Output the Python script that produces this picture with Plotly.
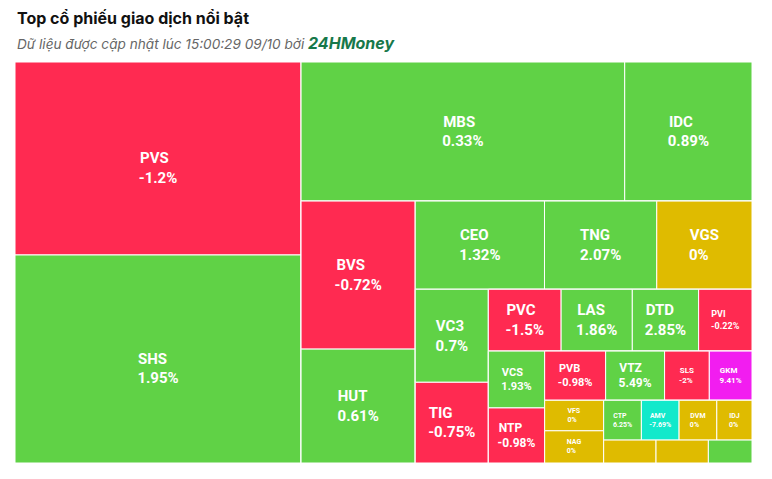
import plotly.graph_objects as go

# ---- data ----
tickers = ["PVS", "SHS", "MBS", "IDC", "BVS", "HUT", "CEO", "TNG", "VGS", "VC3",
           "TIG", "PVC", "LAS", "DTD", "PVI", "VCS", "NTP", "PVB", "VTZ", "SLS",
           "GKM", "VFS", "NAG", "CTP", "AMV", "DVM", "IDJ", "X1", "X2", "X3"]
# relative trading size (tile area)
sizes = [552, 595, 450, 177, 169, 130, 114, 99, 84, 68,
         59, 45, 44, 41, 33, 32, 31, 30, 29, 22,
         21, 18, 19, 15, 15, 15, 14, 12, 12, 10]
# % change shown on each tile (None = label not shown in the reference)
changes = [-1.2, 1.95, 0.33, 0.89, -0.72, 0.61, 1.32, 2.07, 0, 0.7,
           -0.75, -1.5, 1.86, 2.85, -0.22, 1.93, -0.98, -0.98, 5.49, -2,
           9.41, 0, 0, 6.25, -7.69, 0, 0, None, None, None]
status = ["down", "up", "up", "up", "down", "up", "up", "up", "ref", "up",
          "down", "down", "up", "up", "down", "up", "down", "down", "up", "down",
          "ceil", "ref", "ref", "up", "floor", "ref", "ref", "ref", "ref", "up"]
font_sizes = [15, 15, 15, 15, 15, 15, 15, 15, 15, 15,
              15, 15, 15, 15, 9, 11, 12, 11, 12, 8,
              8, 7, 7, 7, 7, 7, 7, 7, 7, 7]

# tile grouping of the reference layout (alternating columns / rows)
tree = [
    ["PVS", "SHS"],
    [
        ["MBS", "IDC"],
        [
            ["BVS", "HUT"],
            [
                ["CEO", "TNG", "VGS"],
                [
                    ["VC3", "TIG"],
                    [
                        ["PVC", "LAS", "DTD", "PVI"],
                        [
                            ["VCS", "NTP"],
                            [
                                ["PVB", "VTZ", "SLS", "GKM"],
                                [
                                    ["VFS", "NAG"],
                                    [
                                        ["CTP", "AMV", "DVM", "IDJ"],
                                        ["X1", "X2", "X3"],
                                    ],
                                ],
                            ],
                        ],
                    ],
                ],
            ],
        ],
    ],
]

# labels sitting lower in their tile in the reference
lowered = {"PVS", "SHS"}

palette = {"up": "#60D246", "down": "#FF2A51", "ref": "#DFBB00",
           "ceil": "#F21DF0", "floor": "#12E9CB"}

# approximate Roboto Bold advance widths (em) used to left-align the two label lines
_cw = {"0": .562, "1": .562, "2": .562, "3": .562, "4": .562, "5": .562, "6": .562,
       "7": .562, "8": .562, "9": .562, ".": .27, "-": .28, "%": .733, "\u00a0": .25,
       "I": .29, "M": .87, "W": .87, "L": .54, "E": .57, "F": .55, "J": .55}


def _w(s):
    return sum(_cw.get(ch, .65) for ch in s)


def label_text(name, chg, low):
    a, b = name, f"{chg:g}%"
    nb = "\u00a0"
    if _w(a) < _w(b):
        a = a + nb * round((_w(b) - _w(a)) / _cw[nb])
    else:
        b = b + nb * round((_w(a) - _w(b)) / _cw[nb])
    t = f"<b>{a}</b><br><b>{b}</b>"
    return ("\u00a0<br>" + t) if low else t


idx = {t: i for i, t in enumerate(tickers)}
ids, labels, parents, values, colors, texts, fsizes = [], [], [], [], [], [], []

ids.append("root"); labels.append(""); parents.append(""); values.append(0)
colors.append("#ffffff"); texts.append(""); fsizes.append(10)

counter = [0]


def walk(node, parent):
    if isinstance(node, str):
        i = idx[node]
        ids.append(node)
        labels.append(node if changes[i] is not None else "")
        parents.append(parent)
        values.append(sizes[i])
        colors.append(palette[status[i]])
        if changes[i] is None:
            texts.append("")
        else:
            texts.append(label_text(node, changes[i], node in lowered))
        fsizes.append(font_sizes[i])
        return
    counter[0] += 1
    gid = f"g{counter[0]}"
    ids.append(gid); labels.append(""); parents.append(parent); values.append(0)
    colors.append("#ffffff"); texts.append(""); fsizes.append(10)
    for child in node:
        walk(child, gid)


for child in tree:
    walk(child, "root")

fig = go.Figure(go.Treemap(
    ids=ids,
    labels=labels,
    parents=parents,
    values=values,
    branchvalues="remainder",
    sort=False,
    text=texts,
    textinfo="text",
    textposition="middle center",
    textfont=dict(family="Roboto", color="#ffffff", size=fsizes),
    marker=dict(colors=colors, line=dict(color="#ffffff", width=1),
                pad=dict(t=0, l=0, r=0, b=0)),
    tiling=dict(packing="slice-dice", pad=0),
    pathbar=dict(visible=False),
    hoverinfo="label+value",
))

fig.update_layout(
    width=772, height=479,
    margin=dict(l=15, r=20, t=62, b=16),
    paper_bgcolor="#ffffff",
    plot_bgcolor="#ffffff",
    showlegend=False,
    annotations=[
        dict(text="<b>Top cổ phiếu giao dịch nổi bật</b>", xref="paper", yref="paper",
             x=0, y=1.11, xanchor="left", yanchor="middle", showarrow=False,
             font=dict(family="Inter", size=16, color="#111111")),
        dict(text="<i>Dữ liệu được cập nhật lúc 15:00:29 09/10 bởi </i>"
                  "<span style='color:#17784a;font-size:16px'><b><i>24HMoney</i></b></span>",
             xref="paper", yref="paper", x=0, y=1.047, xanchor="left", yanchor="middle",
             showarrow=False, font=dict(family="Inter", size=13.6, color="#666666")),
    ],
)

fig.write_html("out.html")
